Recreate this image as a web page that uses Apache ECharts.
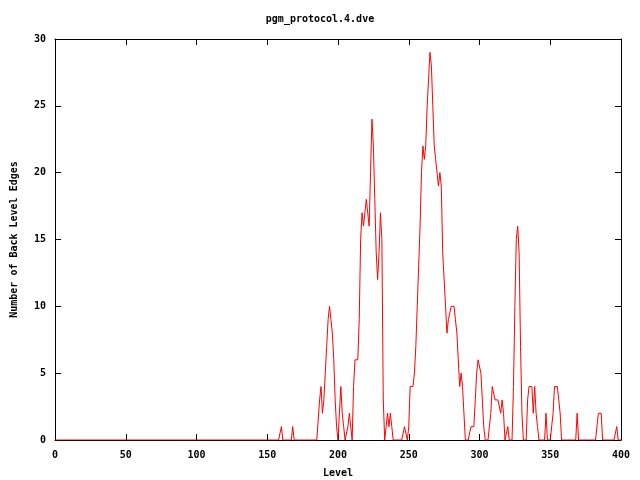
<!DOCTYPE html>
<html>
<head>
<meta charset="utf-8">
<script src="https://cdn.jsdelivr.net/npm/echarts@6/dist/echarts.min.js"></script>
<style>html,body{margin:0;padding:0;background:#fff}#c{width:640px;height:480px}</style>
</head>
<body>
<div id="c"></div>
<script>
var chartTitle = "pgm_protocol.4.dve";
var xLabel = "Level";
var yLabel = "Number of Back Level Edges";
var xTicks = [0, 50, 100, 150, 200, 250, 300, 350, 400];
var yTicks = [0, 5, 10, 15, 20, 25, 30];

// Number of back level edges for levels 0..400
var edges0to149 = [
0,0,0,0,0,0,0,0,0,0, 0,0,0,0,0,0,0,0,0,0, 0,0,0,0,0,0,0,0,0,0,
0,0,0,0,0,0,0,0,0,0, 0,0,0,0,0,0,0,0,0,0, 0,0,0,0,0,0,0,0,0,0,
0,0,0,0,0,0,0,0,0,0, 0,0,0,0,0,0,0,0,0,0, 0,0,0,0,0,0,0,0,0,0,
0,0,0,0,0,0,0,0,0,0, 0,0,0,0,0,0,0,0,0,0, 0,0,0,0,0,0,0,0,0,0,
0,0,0,0,0,0,0,0,0,0, 0,0,0,0,0,0,0,0,0,0, 0,0,0,0,0,0,0,0,0,0
];
var edges150to249 = [
0,0,0,0,0,0,0,0,0,0,      // 150
1,0,0,0,0,0,0,0,1,0,      // 160
0,0,0,0,0,0,0,0,0,0,      // 170
0,0,0,0,0,0,0,3,4,2,      // 180
3,5,7,9,10,9,8,6,3,1,     // 190
0,2,4,2,1,0,0,1,2,2,      // 200
0,4,6,6,6,9,15,17,16,17,  // 210
18,18,16,20,24,22,18,14,12,14, // 220
17,15,3,0,1,2,1,2,1,0,    // 230
0,0,0,0,0,0,0,1,1,0       // 240
];
var edges250to400 = [
1,4,4,4,5,7,10,13,16,20,  // 250
22,21,22,25,27,29,28,25,22,21, // 260
21,19,20,19,14,12,10,8,9,9,    // 270
10,10,10,9,8,6,4,5,4,2,   // 280
0,0,0,0,1,1,1,3,5,6,      // 290
6,5,3,1,0,0,0,1,2,4,      // 300
4,3,3,3,3,2,3,2,0,0,      // 310
1,0,0,0,4,10,15,16,14,7,  // 320
2,0,0,0,3,4,4,4,2,4,      // 330
2,1,0,0,0,0,0,2,0,0,      // 340
0,0,2,4,4,4,3,2,0,0,      // 350
0,0,0,0,0,0,0,0,0,2,      // 360
0,0,0,0,0,0,0,0,0,0,      // 370
0,0,0,1,2,2,2,0,0,0,      // 380
0,0,0,0,0,0,0,1,0,0,      // 390
0                         // 400
];

var edges = edges0to149.concat(edges150to249, edges250to400);
var seriesData = edges.map(function (v, i) { return [i, v]; });

var fontFam = "'DejaVu Sans Mono', 'Liberation Mono', monospace";
var lblStyle = { fontFamily: fontFam, fontWeight: 'bold', fontSize: 10, color: '#000' };

var chart = echarts.init(document.getElementById('c'), null, { renderer: 'canvas' });
function axLine() { return { show: true, onZero: false, lineStyle: { color: '#000', width: 1 } }; }
function axTick() { return { show: true, inside: true, length: 6, lineStyle: { color: '#000' } }; }
chart.setOption({
  animation: false,
  backgroundColor: '#fff',
  title: {
    text: chartTitle, left: 'center', top: 9,
    textStyle: { fontFamily: fontFam, fontWeight: 'bold', fontSize: 10, color: '#000' }
  },
  grid: { left: 55, right: 19, top: 39, bottom: 40, containLabel: false, outerBoundsMode: 'none' },
  xAxis: [{
    type: 'value', min: 0, max: 400, interval: 50, position: 'bottom',
    name: xLabel, nameLocation: 'middle', nameGap: 28, nameTextStyle: lblStyle,
    axisLine: axLine(), axisTick: axTick(),
    axisLabel: Object.assign({ margin: 10, formatter: function (v) { return xTicks.indexOf(v) >= 0 ? String(v) : ''; } }, lblStyle),
    splitLine: { show: false }
  }, {
    type: 'value', min: 0, max: 400, interval: 50, position: 'top',
    axisLine: axLine(), axisTick: axTick(),
    axisLabel: { show: false }, splitLine: { show: false }
  }],
  yAxis: [{
    type: 'value', min: 0, max: 30, interval: 5, position: 'left',
    name: yLabel, nameLocation: 'middle', nameGap: 36, nameRotate: 90, nameTextStyle: lblStyle,
    axisLine: axLine(), axisTick: axTick(),
    axisLabel: Object.assign({ margin: 9, formatter: function (v) { return yTicks.indexOf(v) >= 0 ? String(v) : ''; } }, lblStyle),
    splitLine: { show: false }
  }, {
    type: 'value', min: 0, max: 30, interval: 5, position: 'right',
    axisLine: axLine(), axisTick: axTick(),
    axisLabel: { show: false }, splitLine: { show: false }
  }],
  series: [{
    type: 'line', data: seriesData, xAxisIndex: 0, yAxisIndex: 0,
    showSymbol: false, symbol: 'none',
    lineStyle: { color: '#ff0000', width: 1 },
    z: 1
  }]
});
</script>
</body>
</html>
